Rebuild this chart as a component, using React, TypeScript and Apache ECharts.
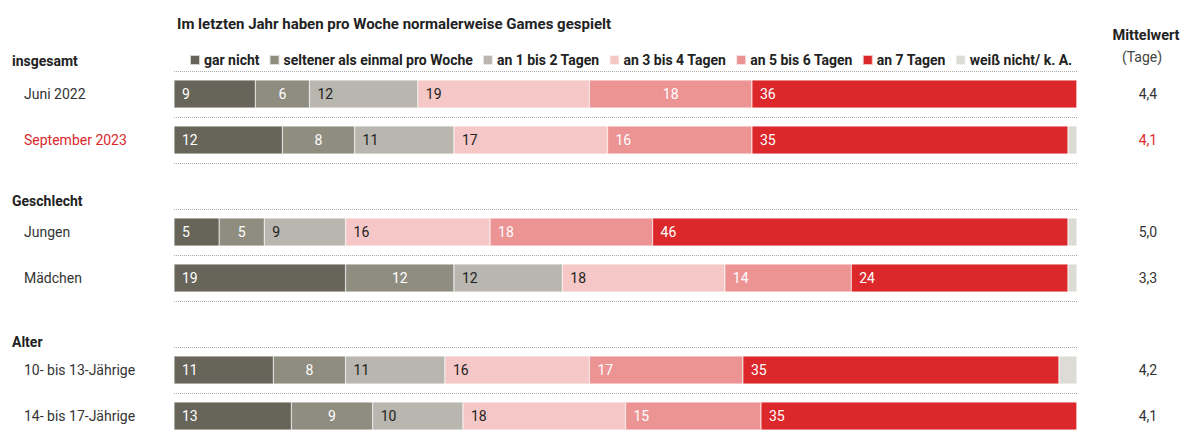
import React, { useEffect, useRef } from "react";
import * as echarts from "echarts";

const chartTitle = "Im letzten Jahr haben pro Woche normalerweise Games gespielt";
const groupHeaders = ["insgesamt", "Geschlecht", "Alter"];
const rowLabels = ["Juni 2022", "September 2023", "Jungen", "Mädchen", "10- bis 13-Jährige", "14- bis 17-Jährige"];
const seriesNames = [
  "gar nicht",
  "seltener als einmal pro Woche",
  "an 1 bis 2 Tagen",
  "an 3 bis 4 Tagen",
  "an 5 bis 6 Tagen",
  "an 7 Tagen",
  "weiß nicht/ k. A.",
];
const garNicht = [9, 12, 5, 19, 11, 13];
const seltener = [6, 8, 5, 12, 8, 9];
const tage12 = [12, 11, 9, 12, 11, 10];
const tage34 = [19, 17, 16, 18, 16, 18];
const tage56 = [18, 16, 18, 14, 17, 15];
const tage7 = [36, 35, 46, 24, 35, 35];
const weissNicht = [0, 1, 1, 1, 2, 0];
const mittelwert = ["4,4", "4,1", "5,0", "3,3", "4,2", "4,1"];

// slot positions of the rows on the category axis (gaps between groups)
const rowSlots = [0, 1, 3, 4, 6, 7];
const slotCount = 8;
const highlightRow = 1;

const colors = ["#67645a", "#8f8d80", "#b8b6ae", "#f5c7c7", "#ec9494", "#dc282b", "#dcdbd5"];
const RED = "#dc282b";
const FONT = "Roboto, 'Liberation Sans', sans-serif";

function toSlots<T>(arr: T[]): (T | string)[] {
  const out: (T | string)[] = new Array(slotCount).fill("-");
  rowSlots.forEach((s, i) => (out[s] = arr[i]));
  return out;
}

export default function App() {
  const ref = useRef<HTMLDivElement>(null);
  useEffect(() => {
    if (!ref.current) return;
    const chart = echarts.init(ref.current, undefined, { renderer: "svg" });

    const slotNames = Array.from({ length: slotCount }, (_, i) => "s" + i);
    const leftLabels: string[] = new Array(slotCount).fill("");
    const rightLabels: string[] = new Array(slotCount).fill("");
    rowSlots.forEach((s, i) => {
      leftLabels[s] = rowLabels[i];
      rightLabels[s] = mittelwert[i];
    });
    const highlightSlot = rowSlots[highlightRow];

    const allValues = [garNicht, seltener, tage12, tage34, tage56, tage7, weissNicht];
    const labelCfg = [
      { show: true, position: "insideLeft", color: "#fff", distance: 8 },
      { show: true, position: "inside", color: "#fff" },
      { show: true, position: "insideLeft", color: "#222", distance: 8 },
      { show: true, position: "insideLeft", color: "#222", distance: 8 },
      { show: true, position: "insideLeft", color: "#fff", distance: 8 },
      { show: true, position: "insideLeft", color: "#fff", distance: 8 },
      { show: false },
    ];

    const series = allValues.map((vals, si) => {
      const data = toSlots(vals).map((v, slot) => {
        if (si === 4 && slot === 0) {
          return { value: v, label: { position: "inside" } };
        }
        return v;
      });
      return {
        name: seriesNames[si],
        type: "bar",
        stack: "total",
        barWidth: 28,
        itemStyle: { color: colors[si], borderColor: "rgba(255,255,255,0.7)", borderWidth: 0.5 },
        label: {
          ...labelCfg[si],
          fontFamily: FONT,
          fontSize: 14,
          formatter: (p: any) => (p.value ? String(p.value) : ""),
        },
        emphasis: { disabled: true },
        data,
      };
    });

    const option: any = {
      animation: false,
      title: {
        text: chartTitle,
        left: 172,
        top: 11,
        textStyle: { fontFamily: FONT, fontSize: 15, fontWeight: "bold", color: "#222" },
      },
      legend: {
        left: 184,
        top: 48,
        itemWidth: 10,
        itemHeight: 10,
        itemGap: 9,
        icon: "rect",
        data: seriesNames,
        textStyle: { fontFamily: FONT, fontSize: 14, fontWeight: "bold", color: "#222", padding: [0, 0, 0, -1] },
        selectedMode: false,
      },
      grid: { left: 174, width: 903, top: 71, height: 376 },
      xAxis: { type: "value", min: 0, max: 100, show: false },
      yAxis: [
        {
          type: "category",
          inverse: true,
          data: slotNames,
          axisLine: { show: false },
          axisTick: { show: false },
          splitLine: { show: true, lineStyle: { type: "dotted", color: "#aaa", width: 1 } },
          axisLabel: {
            align: "left",
            margin: 150,
            fontFamily: FONT,
            fontSize: 14,
            color: "#333",
            formatter: (_v: string, i: number) => (i === highlightSlot ? "{r|" + leftLabels[i] + "}" : leftLabels[i]),
            rich: { r: { color: RED, fontFamily: FONT, fontSize: 14 } },
          },
        },
        {
          type: "category",
          inverse: true,
          position: "right",
          data: slotNames,
          axisLine: { show: false },
          axisTick: { show: false },
          splitLine: { show: false },
          axisLabel: {
            align: "center",
            margin: 71,
            fontFamily: FONT,
            fontSize: 14,
            color: "#333",
            formatter: (_v: string, i: number) => (i === highlightSlot ? "{r|" + rightLabels[i] + "}" : rightLabels[i]),
            rich: { r: { color: RED, fontFamily: FONT, fontSize: 14 } },
          },
        },
      ],
      graphic: [
        ...groupHeaders.map((h, i) => ({
          type: "text",
          left: 12,
          top: [54, 194, 335][i],
          style: { text: h, fontFamily: FONT, fontSize: 14, fontWeight: "bold", fill: "#222" },
        })),
        {
          type: "text",
          x: 1146,
          y: 35,
          style: { text: "Mittelwert", fontFamily: FONT, fontSize: 14.5, fontWeight: "bold", fill: "#222", align: "center", verticalAlign: "middle" },
        },
        {
          type: "text",
          x: 1142,
          y: 57,
          style: { text: "(Tage)", fontFamily: FONT, fontSize: 14, fill: "#444", align: "center", verticalAlign: "middle" },
        },
      ],
      series,
    };
    chart.setOption(option);
    return () => chart.dispose();
  }, []);

  return <div ref={ref} style={{ position: "absolute", left: 0, top: 0, width: 1191, height: 439 }} />;
}
